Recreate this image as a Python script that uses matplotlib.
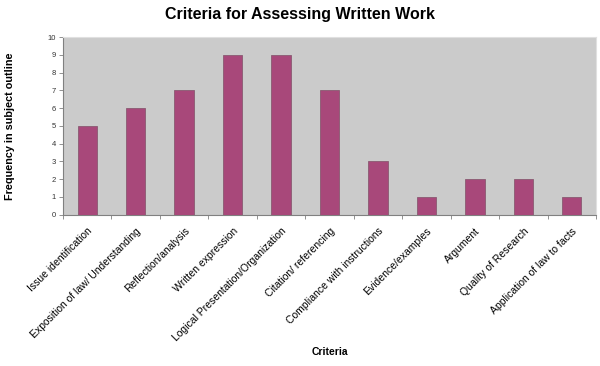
import numpy as np
import matplotlib
matplotlib.use('Agg')
import matplotlib.pyplot as plt

plt.rcParams['font.family'] = ['Liberation Sans', 'DejaVu Sans']

# 数据
criteria = ['Issue identification', 'Exposition of law/ Understanding',
            'Reflection/analysis', 'Written expression',
            'Logical Presentation/Organization', 'Citation/ referencing',
            'Compliance with instructions', 'Evidence/examples', 'Argument',
            'Quality of Research', 'Application of law to facts']
frequency = [5, 6, 7, 9, 9, 7, 3, 1, 2, 2, 1]

fig = plt.figure(figsize=(6, 3.66), dpi=100)
ax = fig.add_axes([63 / 600, 1 - 214.7 / 366, 533 / 600, 177.5 / 366])
ax.set_facecolor('#cbcbcb')

x = np.arange(len(criteria))
ax.bar(x, frequency, width=0.4, color='#a8487a', edgecolor='#8a5a72', linewidth=0.6, zorder=3)

ax.set_xlim(-0.5, len(criteria) - 0.5)
ax.set_ylim(0, 10)
ax.set_yticks(range(0, 11))
ax.tick_params(axis='y', labelsize=5.5, colors='#808080', labelcolor='#333333', length=3, width=0.6, pad=2)

# 分类刻度在边界，标签在中心
ax.set_xticks(np.arange(-0.5, len(criteria)), minor=True)
ax.set_xticks(x)
ax.set_xticklabels(criteria, rotation=45, ha='right', va='top', rotation_mode='anchor', fontsize=7.5)
ax.tick_params(axis='x', which='major', length=0, pad=8)
ax.tick_params(axis='x', which='minor', length=3, width=0.6, colors='#808080')

for s in ['top', 'right']:
    ax.spines[s].set_color('#e0e0e0')
    ax.spines[s].set_linewidth(0.8)
for s in ['left', 'bottom']:
    ax.spines[s].set_color('#808080')
    ax.spines[s].set_linewidth(0.8)

ax.set_ylabel('Frequency in subject outline', fontsize=7.8, fontweight='bold')
ax.set_xlabel('Criteria', fontsize=7.5, fontweight='bold')
ax.xaxis.set_label_coords(0.5, -132 / 177.5)
ax.yaxis.set_label_coords(-48 / 533, 0.5)

fig.text(0.5, 1 - 15 / 366, 'Criteria for Assessing Written Work', ha='center', va='center',
         fontsize=11.5, fontweight='bold')

plt.savefig('out.png', dpi=100)
